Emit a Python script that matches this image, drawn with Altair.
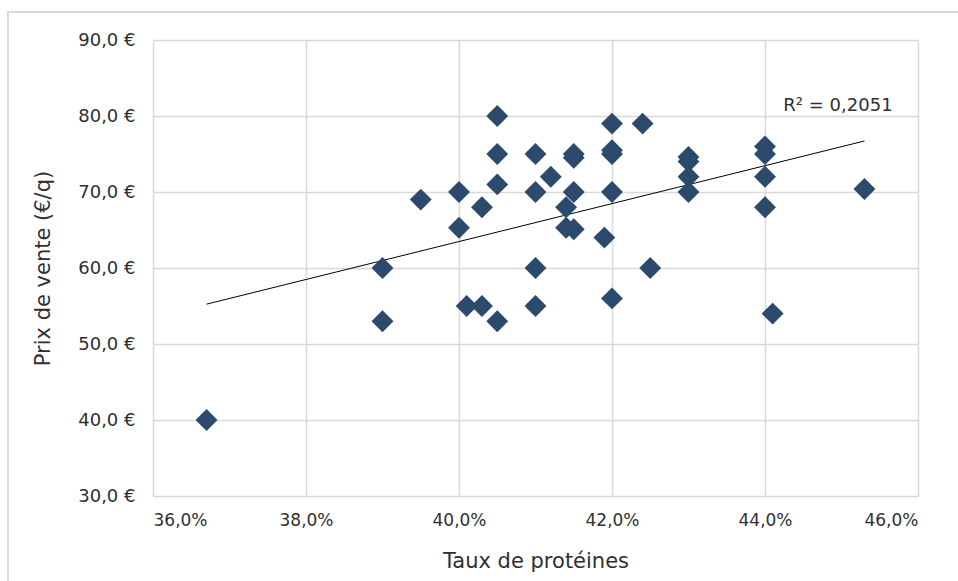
import altair as alt
import pandas as pd

# Taux de protéines (%) and prix de vente (€/q)
proteines = [36.7, 39.0, 39.0, 39.5, 40.0, 40.0, 40.1, 40.3, 40.3, 40.5, 40.5, 40.5, 40.5,
             41.0, 41.0, 41.0, 41.0, 41.2, 41.4, 41.4, 41.5, 41.5, 41.5, 41.5, 41.9,
             42.0, 42.0, 42.0, 42.0, 42.0, 42.4, 42.5,
             43.0, 43.0, 43.0, 43.0, 44.0, 44.0, 44.0, 44.0, 44.1, 45.3]
prix = [40.0, 60.0, 53.0, 69.0, 70.0, 65.3, 55.0, 68.0, 55.0, 80.0, 75.0, 71.0, 53.0,
        75.0, 70.0, 60.0, 55.0, 72.0, 68.0, 65.3, 75.0, 74.5, 70.0, 65.1, 64.0,
        79.0, 75.5, 75.0, 70.0, 56.0, 79.0, 60.0,
        74.6, 74.0, 72.0, 70.0, 76.0, 75.0, 72.0, 68.0, 54.0, 70.4]

r2_label = "R² = 0,2051"

df = pd.DataFrame({"proteines": proteines, "prix": prix})

FONT = "DejaVu Sans"
TXT = "#303030"
xscale = alt.Scale(domain=[36, 46], nice=False, zero=False)
yscale = alt.Scale(domain=[30, 90], nice=False, zero=False)

base = alt.Chart(df)

frame = alt.Chart(pd.DataFrame({"f": [0]})).mark_rect(
    fill=None, stroke="#d9d9d9", strokeWidth=2
).encode(
    x=alt.value(-145), x2=alt.value(830), y=alt.value(-28), y2=alt.value(560)
)

points = base.mark_point(shape="diamond", filled=True, size=480, color="#2B4A6C", opacity=1).encode(
    x=alt.X("proteines:Q", scale=xscale,
            axis=alt.Axis(title="Taux de protéines", values=[36, 38, 40, 42, 44, 46],
                          labelExpr="replace(format(datum.value, '.1f'), '.', ',') + '%'",
                          grid=True, gridColor="#d9d9d9", gridWidth=1.5, domain=False, ticks=False,
                          labelPadding=16, titlePadding=22, labelFontSize=17, titleFontSize=21,
                          labelFont=FONT, titleFont=FONT, labelColor=TXT, titleColor=TXT,
                          titleFontWeight="normal")),
    y=alt.Y("prix:Q", scale=yscale,
            axis=alt.Axis(title="Prix de vente (€/q)", values=[30, 40, 50, 60, 70, 80, 90],
                          labelExpr="replace(format(datum.value, '.1f'), '.', ',') + ' €'",
                          grid=True, gridColor="#d9d9d9", gridWidth=1.5, domain=False, ticks=False,
                          labelPadding=18, titlePadding=24, labelFontSize=18, titleFontSize=21,
                          labelFont=FONT, titleFont=FONT, labelColor=TXT, titleColor=TXT,
                          titleFontWeight="normal")),
)

trend = base.transform_regression("proteines", "prix").mark_line(color="#000000", strokeWidth=1).encode(
    x=alt.X("proteines:Q", scale=xscale),
    y=alt.Y("prix:Q", scale=yscale),
)

label = alt.Chart(pd.DataFrame({"t": [r2_label]})).mark_text(
    align="left", baseline="middle", fontSize=18, font=FONT, color=TXT
).encode(
    x=alt.datum(44.24, scale=xscale),
    y=alt.datum(81.3, scale=yscale),
    text="t:N",
)

chart = alt.layer(frame, trend, points, label).properties(
    width=765, height=456,
    autosize=alt.AutoSizeParams(type="none"),
    padding={"left": 153, "top": 40, "right": 40, "bottom": 85},
    background="white",
).configure_view(stroke=None)

chart.save("out.html", embed_options={"renderer": "svg", "actions": False})
